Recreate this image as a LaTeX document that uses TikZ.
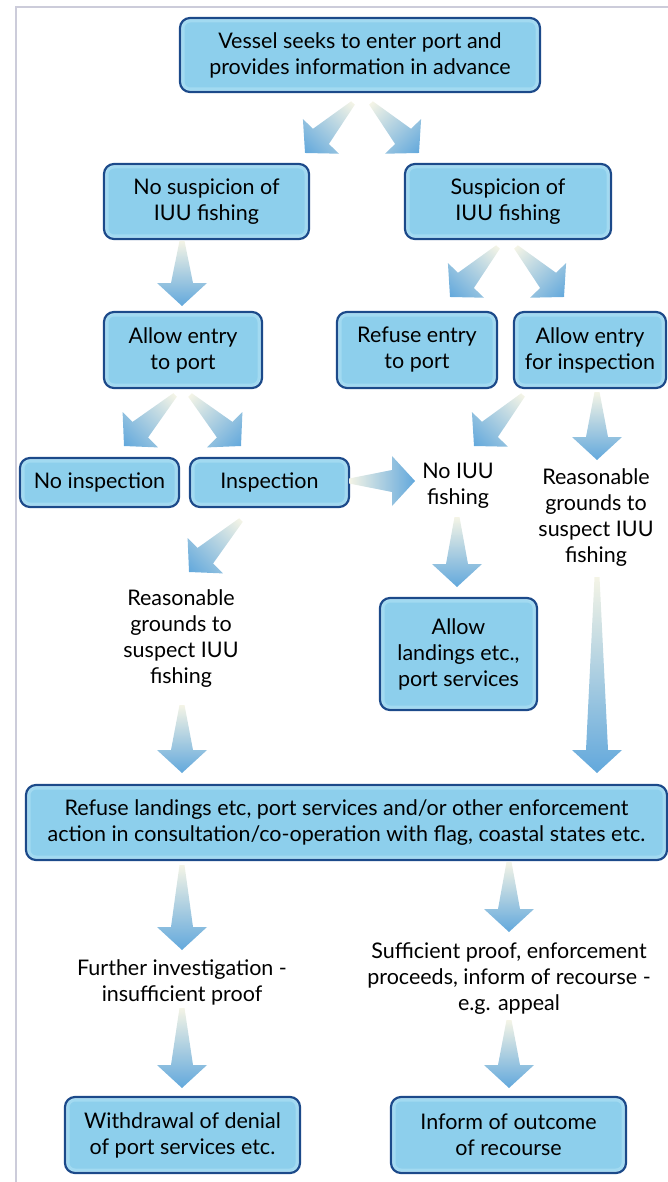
\documentclass[tikz,border=0pt]{standalone}
\usepackage{fontspec}
\setmainfont{Lato}
\usetikzlibrary{calc}
\definecolor{boxline}{RGB}{28,74,138}
\definecolor{boxedge}{RGB}{182,227,246}
\definecolor{boxmid}{RGB}{162,218,241}
\definecolor{boxfill}{RGB}{141,207,236}
\definecolor{argtail}{RGB}{244,244,230}
\definecolor{arghead}{RGB}{98,168,220}
\definecolor{framecol}{RGB}{204,204,218}
\tikzset{
  box/.style={draw=boxline, line width=2.2pt, rounded corners=10pt, fill=boxedge,
    align=center, inner sep=0pt, font=\fontsize{21.5}{26}\selectfont,
    path picture={
      \fill[boxmid, rounded corners=8pt]
        ([shift={(2pt,2pt)}]path picture bounding box.south west) rectangle
        ([shift={(-2pt,-2pt)}]path picture bounding box.north east);
      \fill[boxfill, rounded corners=6pt]
        ([shift={(4.5pt,4.5pt)}]path picture bounding box.south west) rectangle
        ([shift={(-4.5pt,-4.5pt)}]path picture bounding box.north east);}},
  txt/.style={align=center, inner sep=0pt, font=\fontsize{21.5}{26}\selectfont}
}
% shaded block arrow from #1 to #2
\newcommand\garrow[2]{%
  \path let \p1=(#1), \p2=(#2), \n1={atan2(\y2-\y1,\x2-\x1)},
    \n2={veclen(\x2-\x1,\y2-\y1)} in
    \pgfextra{\xdef\garang{\n1}\xdef\garlen{\n2}\xdef\garx{\x1}\xdef\gary{\y1}};
  \pgfmathsetmacro\garangle{\garang}%
  \pgfmathsetmacro\garend{\garlen}%
  \pgfmathsetmacro\garbase{\garend-23}%
  \begin{scope}[transform canvas={shift={(\garx,\gary)}, rotate=\garangle}]
    \shade[left color=argtail, right color=arghead]
      (0pt,2.5pt) -- (\garbase pt,11pt) -- (\garbase pt,25pt) -- (\garend pt,0pt)
      -- (\garbase pt,-25pt) -- (\garbase pt,-11pt) -- (0pt,-2.5pt) -- cycle;
  \end{scope}}
\begin{document}
\begin{tikzpicture}[x=1pt, y=-1pt]
      \useasboundingbox (0,0) rectangle (668,1182);
      \draw[framecol, line width=1.2pt] (16,1182) -- (16,7) -- (668,7);
      \node[box, minimum width=360pt, minimum height=74pt] (vessel) at (360,55)
        {Vessel seeks to enter port and\\provides information in advance};
      \node[box, minimum width=205pt, minimum height=75pt] (nosusp) at (206.5,201.5)
        {No suspicion of\\IUU fishing};
      \node[box, minimum width=206pt, minimum height=75pt] (susp) at (508,201.5)
        {Suspicion of\\IUU fishing};
      \node[box, minimum width=158pt, minimum height=76pt] (allowport) at (183,350)
        {Allow entry\\to port};
      \node[box, minimum width=160pt, minimum height=76pt] (refuse) at (417,350)
        {Refuse entry\\to port};
      \node[box, minimum width=152pt, minimum height=76pt] (allowinsp) at (590,350)
        {Allow entry\\for inspection};
      \node[box, minimum width=159pt, minimum height=49pt] (noinsp) at (99.5,482.5)
        {No inspection};
      \node[box, minimum width=159pt, minimum height=49pt] (insp) at (269.5,482.5)
        {Inspection};
      \node[txt] (noiuu) at (458,486) {No IUU\\fishing};
      \node[txt] (rgright) at (596,518) {Reasonable\\grounds to\\suspect IUU\\fishing};
      \node[txt] (rgleft) at (181,639) {Reasonable\\grounds to\\suspect IUU\\fishing};
      \node[box, minimum width=157pt, minimum height=112pt] (allowland) at (458.5,654)
        {Allow\\landings etc.,\\port services};
      \node[box, minimum width=641pt, minimum height=75pt] (refland) at (346.5,822.5)
        {Refuse landings etc, port services and/or other enforcement\\action in consultation/co-operation with flag, coastal states etc.};
      \node[txt] (further) at (182,982) {Further investigation -\\insufficient proof};
      \node[txt] (sufficient) at (509,979)
        {Sufficient proof, enforcement\\proceeds, inform of recourse -\\e.g. appeal};
      \node[box, minimum width=235pt, minimum height=76pt] (withdraw) at (182.5,1135)
        {Withdrawal of denial\\of port services etc.};
      \node[box, minimum width=235pt, minimum height=76pt] (inform) at (508.5,1135)
        {Inform of outcome\\of recourse};
      % arrow ends
      \coordinate (t1) at (353,103);  \coordinate (h1) at (305,153);
      \coordinate (t2) at (371,103);  \coordinate (h2) at (419,153);
      \coordinate (t3) at (182,241);  \coordinate (h3) at (182,306);
      \coordinate (t4) at (498,247);  \coordinate (h4) at (450,297);
      \coordinate (t5) at (516,247);  \coordinate (h5) at (564,297);
      \coordinate (t6) at (175,395);  \coordinate (h6) at (124,446);
      \coordinate (t7) at (190,395);  \coordinate (h7) at (241,446);
      \coordinate (t8) at (523,395);  \coordinate (h8) at (474,446);
      \coordinate (t9) at (597,392);  \coordinate (h9) at (597,460);
      \coordinate (t10) at (349,481); \coordinate (h10) at (415,481);
      \coordinate (t11) at (241,520); \coordinate (h11) at (189,572);
      \coordinate (t12) at (457,517); \coordinate (h12) at (457,587);
      \coordinate (t13) at (182,705); \coordinate (h13) at (182,773);
      \coordinate (t14) at (597,577); \coordinate (h14) at (597,773);
      \coordinate (t15) at (182,865); \coordinate (h15) at (182,950);
      \coordinate (t16) at (509,862); \coordinate (h16) at (509,932);
      \coordinate (t17) at (182,1008); \coordinate (h17) at (182,1088);
      \coordinate (t18) at (509,1020); \coordinate (h18) at (509,1088);
      \garrow{t1}{h1}
      \garrow{t2}{h2}
      \garrow{t3}{h3}
      \garrow{t4}{h4}
      \garrow{t5}{h5}
      \garrow{t6}{h6}
      \garrow{t7}{h7}
      \garrow{t8}{h8}
      \garrow{t9}{h9}
      \garrow{t10}{h10}
      \garrow{t11}{h11}
      \garrow{t12}{h12}
      \garrow{t13}{h13}
      \garrow{t14}{h14}
      \garrow{t15}{h15}
      \garrow{t16}{h16}
      \garrow{t17}{h17}
      \garrow{t18}{h18}
    \end{tikzpicture}
\end{document}
